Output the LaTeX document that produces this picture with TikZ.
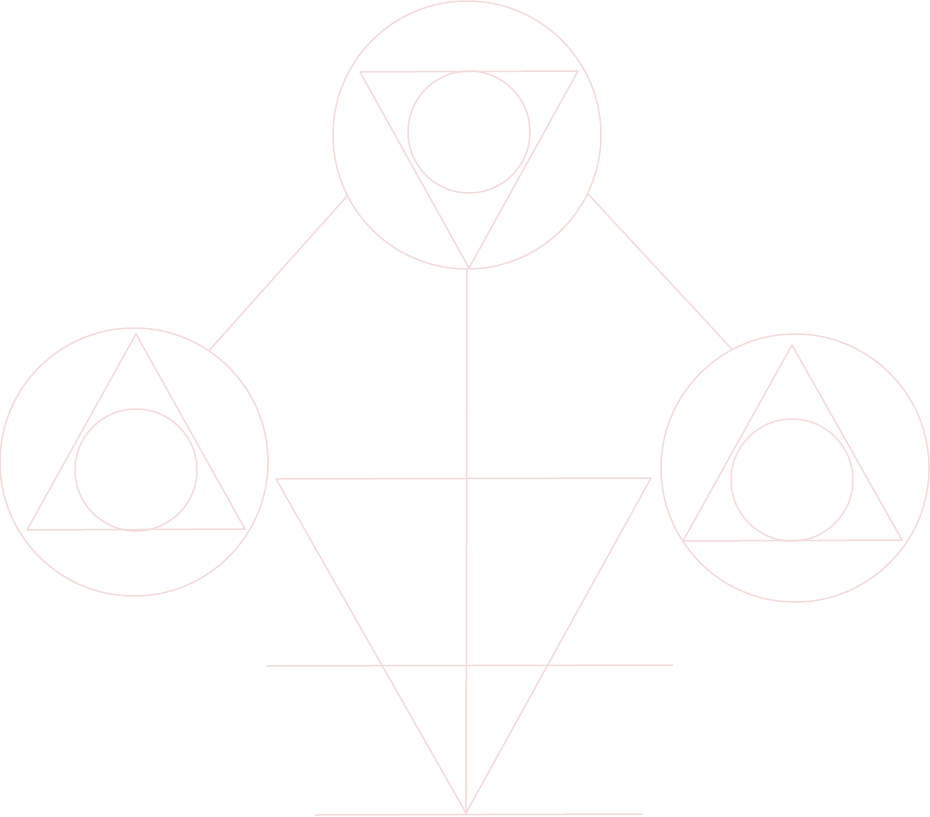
\documentclass[tikz,border=0pt]{standalone}
\usepackage{tikz}
\definecolor{rose}{RGB}{244,219,219}
\tikzset{
  lineart/.style={draw=rose, line width=1.5pt, line join=round},
  ring/.style={lineart, circle, inner sep=0pt, minimum size=#1}
}
\begin{document}
\begin{tikzpicture}[x=1pt,y=-1pt]
\useasboundingbox (0,0) rectangle (930,817);
% outer rings
\node[ring=268pt] (top) at (467,135) {};
\node[ring=268pt] (left) at (134,462) {};
\node[ring=268pt] (right) at (795,468) {};
% inner rings
\node[ring=122pt] (topin) at (469,132) {};
\node[ring=122pt] (leftin) at (136,470) {};
\node[ring=122pt] (rightin) at (792,480) {};
% triangles
\draw[lineart] (360,72) -- (578,71) -- (469,268) -- cycle;
\draw[lineart] (136,334) -- (245,529) -- (27,530) -- cycle;
\draw[lineart] (792,345) -- (902,540) -- (683,541) -- cycle;
\draw[lineart] (276,479) -- (651,478) -- (466,813) -- cycle;
% connectors
\draw[lineart] (top.207.5) -- (left.56.3);
\draw[lineart] (top.-26.4) -- (right.118.8);
\coordinate (foot) at (466,815);
\draw[lineart] (top.south) -- (foot);
% bars
\coordinate (barl) at (266,666);
\coordinate (barr) at (673,665);
\draw[lineart] (barl) -- (barr);
\coordinate (basel) at (315,815);
\coordinate (baser) at (643,814);
\draw[lineart] (basel) -- (baser);
\end{tikzpicture}
\end{document}
